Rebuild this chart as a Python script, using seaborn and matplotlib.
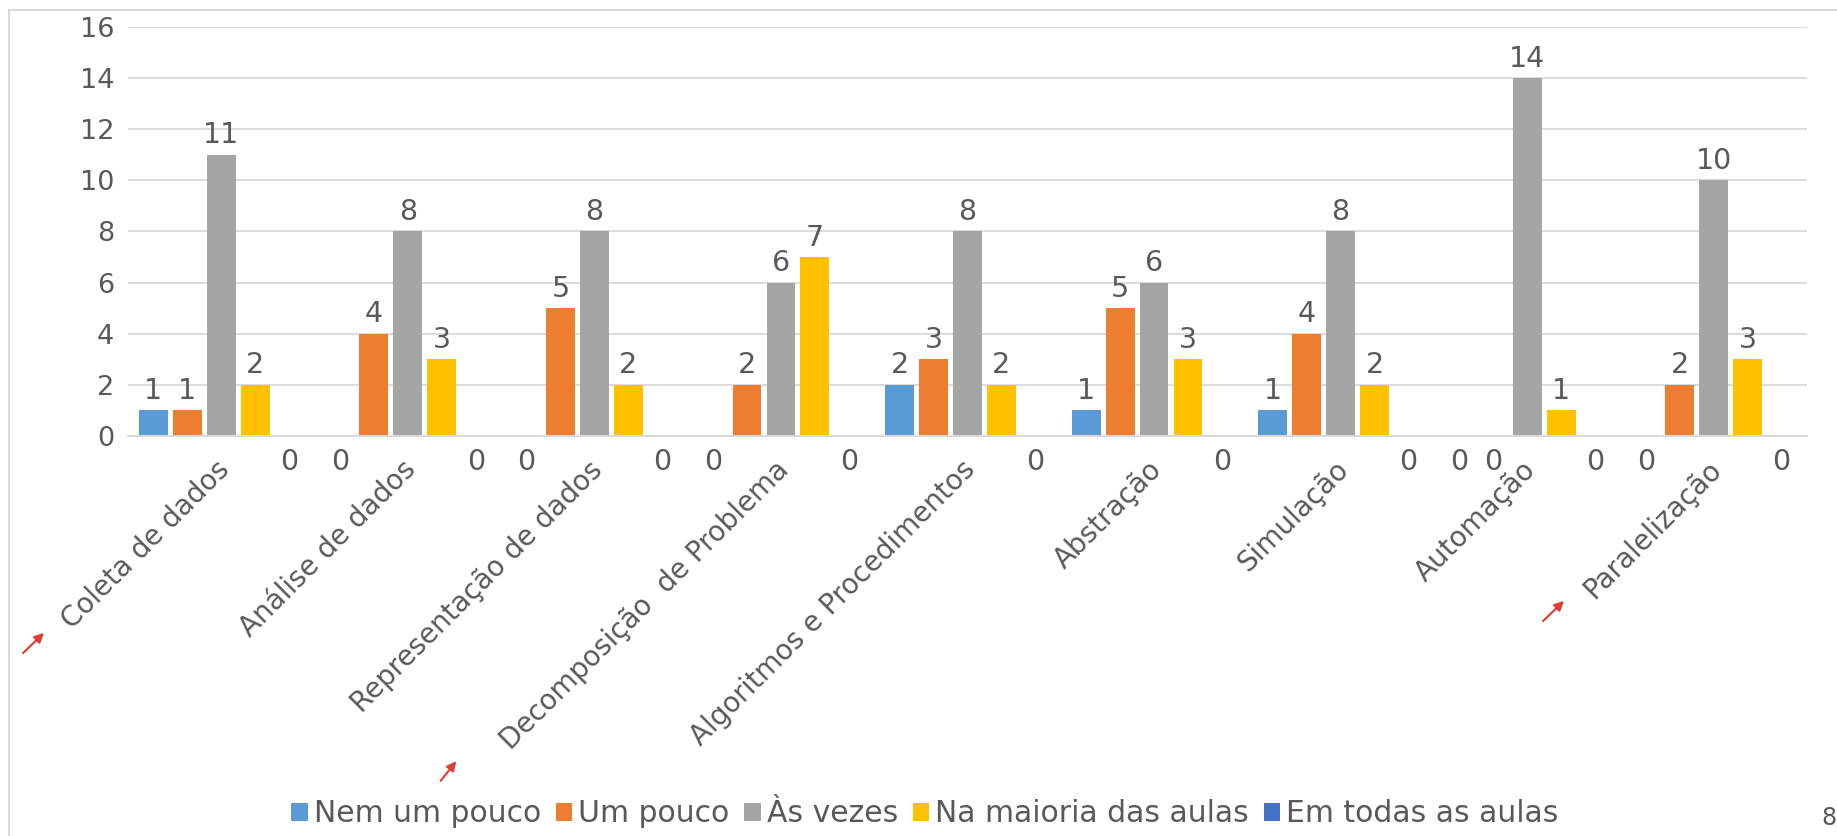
import matplotlib
matplotlib.use("Agg")
import matplotlib.pyplot as plt
import matplotlib.transforms as mtransforms
from matplotlib.patches import Patch
from matplotlib.lines import Line2D
import seaborn as sns
import pandas as pd

categories = ["Coleta de dados", "Análise de dados", "Representação de dados",
              "Decomposição  de Problema", "Algoritmos e Procedimentos",
              "Abstração", "Simulação", "Automação", "Paralelização"]
series = ["Nem um pouco", "Um pouco", "Às vezes", "Na maioria das aulas", "Em todas as aulas"]
nem_um_pouco = [1, 0, 0, 0, 2, 1, 1, 0, 0]
um_pouco = [1, 4, 5, 2, 3, 5, 4, 0, 2]
as_vezes = [11, 8, 8, 6, 8, 6, 8, 14, 10]
na_maioria = [2, 3, 2, 7, 2, 3, 2, 1, 3]
em_todas = [0, 0, 0, 0, 0, 0, 0, 0, 0]
yticks = [0, 2, 4, 6, 8, 10, 12, 14, 16]

colors = ["#5B9BD5", "#ED7D31", "#A5A5A5", "#FFC000", "#4472C4"]
txt_color = "#595959"

values = [nem_um_pouco, um_pouco, as_vezes, na_maioria, em_todas]
rows = []
for s, vals in zip(series, values):
    for c, v in zip(categories, vals):
        rows.append({"cat": c, "serie": s, "val": v})
df = pd.DataFrame(rows)

sns.set_theme(style="white")
plt.rcParams["font.family"] = ["DejaVu Sans"]

W, H = 1837, 836
fig = plt.figure(figsize=(W / 100, H / 100), dpi=100)
ax = fig.add_axes([128 / W, 1 - 436 / H, (1807 - 128) / W, (436 - 27) / H])

sns.barplot(data=df, x="cat", y="val", hue="serie", order=categories,
            hue_order=series, palette=colors, width=0.91, gap=0.15,
            saturation=1, legend=False, ax=ax, errorbar=None, linewidth=0)

ax.set_ylim(0, 16)
ax.set_xlim(-0.5, len(categories) - 0.5)
ax.set_yticks(yticks)
ax.set_yticklabels([str(t) for t in yticks])
ax.grid(axis="y", color="#D9D9D9", linewidth=1.3)
ax.set_axisbelow(True)
for sp in ["top", "right", "left"]:
    ax.spines[sp].set_visible(False)
ax.spines["bottom"].set_color("#D9D9D9")
ax.spines["bottom"].set_linewidth(1.5)
ax.set_xlabel("")
ax.set_ylabel("")
ax.tick_params(axis="y", length=0, pad=10, labelsize=19.5, labelcolor=txt_color)
ax.tick_params(axis="x", length=0, pad=14, labelsize=20, labelcolor=txt_color)

ax.set_xticks(range(len(categories)))
ax.set_xticklabels(categories, rotation=45, ha="right", rotation_mode="anchor")
offset = mtransforms.ScaledTranslation(-6 / 100, 0, fig.dpi_scale_trans)
for lbl in ax.get_xticklabels():
    lbl.set_transform(lbl.get_transform() + offset)

for cont in ax.containers:
    for bar in cont:
        h = bar.get_height()
        xc = bar.get_x() + bar.get_width() / 2
        if h > 0:
            ax.annotate(f"{int(h)}", (xc, h), xytext=(0, 4), textcoords="offset points",
                        ha="center", va="bottom", fontsize=20.5, color=txt_color)
        else:
            ax.annotate("0", (xc, 0), xytext=(0, -9), textcoords="offset points",
                        ha="center", va="top", fontsize=20.5, color=txt_color)

handles = [Patch(facecolor=c, edgecolor="none") for c in colors]
fig.legend(handles, series, loc="center", bbox_to_anchor=(925 / W, 1 - 814 / H),
           ncol=5, frameon=False, fontsize=21.5, labelcolor=txt_color,
           handlelength=0.55, handleheight=0.55, handletextpad=0.2, columnspacing=0.5)

# chart frame
fig.add_artist(Line2D([9 / W, 9 / W], [0, 1 - 10 / H], transform=fig.transFigure,
                      color="#D9D9D9", linewidth=1.5))
fig.add_artist(Line2D([9 / W, 1], [1 - 10 / H, 1 - 10 / H], transform=fig.transFigure,
                      color="#D9D9D9", linewidth=1.5))

# red arrows
for (x0, y0, x1, y1) in [(21, 655, 46, 631), (439, 783, 458, 759), (1541, 623, 1566, 599)]:
    fig.add_artist(plt.Annotation("", xy=(x1 / W, 1 - y1 / H), xytext=(x0 / W, 1 - y0 / H),
                                  xycoords=fig.transFigure, textcoords=fig.transFigure,
                                  arrowprops=dict(arrowstyle="-|>", color="#E03C31", lw=1.5,
                                                  mutation_scale=14)))

fig.text(1821 / W, 1 - 818 / H, "8", fontsize=17, color=txt_color, ha="left", va="center")

fig.savefig("out.png", dpi=100, facecolor="white")
